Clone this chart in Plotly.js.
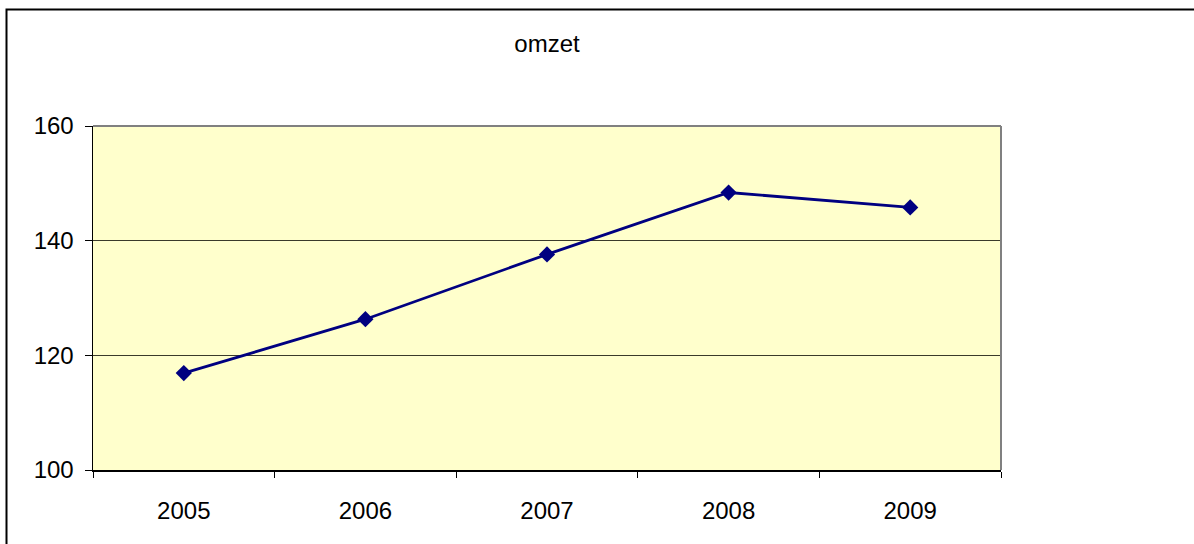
<!DOCTYPE html>
<html>
<head>
<meta charset="utf-8">
<script src="https://cdn.plot.ly/plotly-3.0.1.min.js"></script>
<style>
html,body{margin:0;padding:0;background:#fff;}
#chart{width:1194px;height:544px;}
</style>
</head>
<body>
<div id="chart"></div>
<script>
const categories = ["2005", "2006", "2007", "2008", "2009"];
const omzet = [116.9, 126.3, 137.6, 148.4, 145.8];
const yTicks = [100, 120, 140, 160];
const titleText = "omzet";

const FONT = "Liberation Sans, Arial, sans-serif";

const trace = {
  x: categories,
  y: omzet,
  type: "scatter",
  mode: "lines+markers",
  line: {color: "#000080", width: 2.8},
  marker: {symbol: "diamond", size: 12.5, color: "#000080"},
  hoverinfo: "x+y",
  showlegend: false
};

const layout = {
  width: 1194,
  height: 544,
  margin: {l: 93, r: 193, t: 126, b: 74, pad: 0},
  paper_bgcolor: "#ffffff",
  plot_bgcolor: "#FFFFCC",
  font: {family: FONT, size: 24, color: "#000"},
  title: {text: titleText, x: 0.5, xref: "paper", xanchor: "center", y: 0.92, yanchor: "middle",
          font: {size: 24, family: FONT, color: "#000"}},
  xaxis: {
    type: "category",
    range: [-0.5, 4.5],
    tickson: "boundaries",
    ticks: "outside",
    ticklen: 6,
    tickcolor: "#000",
    tickwidth: 1,
    showline: true,
    linecolor: "#000",
    linewidth: 1.5,
    showgrid: false,
    zeroline: false,
    ticklabelstandoff: 19,
    tickfont: {size: 24, family: FONT}
  },
  yaxis: {
    range: [100, 160],
    tickvals: yTicks,
    ticktext: yTicks.map(String),
    ticks: "outside",
    ticklen: 7,
    tickcolor: "#000",
    showline: true,
    linecolor: "#000",
    linewidth: 1.5,
    showgrid: true,
    gridcolor: "#3a3a2a",
    gridwidth: 1,
    zeroline: false,
    ticklabelstandoff: 6,
    tickfont: {size: 24, family: FONT}
  },
  shapes: [
    {type: "line", xref: "paper", yref: "paper", x0: 0, x1: 1, y0: 1, y1: 1,
     line: {color: "#808080", width: 2}},
    {type: "line", xref: "paper", yref: "paper", x0: 1, x1: 1, y0: 0, y1: 1,
     line: {color: "#808080", width: 2}},
    {type: "rect", xref: "paper", yref: "paper", layer: "below",
     x0: (6.5 - 93) / 908, x1: (1210 - 93) / 908,
     y0: (470 - 560) / 344, y1: (470 - 9.5) / 344,
     line: {color: "#000", width: 2}, fillcolor: "rgba(0,0,0,0)"}
  ]
};

Plotly.newPlot("chart", [trace], layout, {displayModeBar: false, staticPlot: true});
</script>
</body>
</html>
